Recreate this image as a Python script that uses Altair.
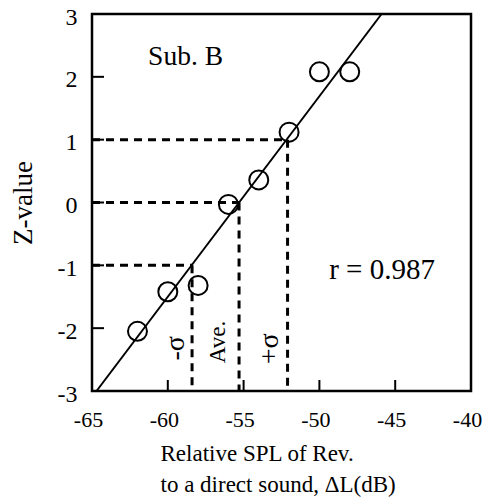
import altair as alt
import pandas as pd

# data points
pt_x = [-62, -60, -58, -56, -54, -52, -50, -48]
pt_y = [-2.05, -1.42, -1.32, -0.03, 0.36, 1.12, 2.08, 2.08]

# regression line endpoints
fit_x = [-64.7, -45.9]
fit_y = [-3.0, 3.0]

# dashed guide lines: -sigma, average, +sigma
guide_x = [-58.4, -55.3, -52.1]
guide_z = [-1, 0, 1]
z_min = -3
x_min = -65

x_ticks = [-65, -60, -55, -50, -45, -40]
y_ticks = [-3, -2, -1, 0, 1, 2, 3]

FONT = "Liberation Serif"
W, H = 379, 377

pts = pd.DataFrame({"x": pt_x, "y": pt_y})
fit = pd.DataFrame({"x": fit_x, "y": fit_y})
hseg = pd.DataFrame({"x": [x_min] * 3, "x2": guide_x, "y": guide_z})
vseg = pd.DataFrame({"x": guide_x, "y": guide_z, "y2": [z_min] * 3})

xs = alt.Scale(domain=[-65, -40], nice=False, zero=False)
ys = alt.Scale(domain=[-3, 3], nice=False, zero=False)

xax = alt.Axis(values=x_ticks, ticks=False, domain=False, grid=False,
               labelPadding=18, labelFontSize=22, labelFont=FONT, labelColor="black",
               labelExpr="'' + datum.value", labelFlush=False, labelOffset=-4,
               title=["Relative SPL of Rev.", "to a direct sound, \u0394L(dB)"],
               titleFont=FONT, titleFontSize=23, titleFontWeight="normal", titleColor="black",
               titleLineHeight=31, titlePadding=12, titleAlign="left", titleX=68)
yax = alt.Axis(values=y_ticks, ticks=False, domain=False, grid=False,
               labelPadding=15, labelFontSize=24, labelFont=FONT, labelColor="black",
               labelExpr="'' + datum.value", labelFlush=False, labelOffset=3,
               title="Z-value", titleFont=FONT, titleFontSize=27, titleFontWeight="normal",
               titleColor="black", titlePadding=20)

base_pts = alt.Chart(pts).mark_point(shape="circle", size=361, strokeWidth=2,
                                     color="black", filled=False, opacity=1).encode(
    x=alt.X("x:Q", scale=xs, axis=xax),
    y=alt.Y("y:Q", scale=ys, axis=yax),
)

line = alt.Chart(fit).mark_line(color="black", strokeWidth=2).encode(
    x=alt.X("x:Q", scale=xs), y=alt.Y("y:Q", scale=ys))

hl = alt.Chart(hseg).mark_rule(color="black", strokeWidth=3, strokeDash=[8, 6]).encode(
    x=alt.X("x:Q", scale=xs), x2="x2:Q", y=alt.Y("y:Q", scale=ys))
vl = alt.Chart(vseg).mark_rule(color="black", strokeWidth=3, strokeDash=[8, 6]).encode(
    x=alt.X("x:Q", scale=xs), y=alt.Y("y:Q", scale=ys), y2="y2:Q")

xt = alt.Chart(pd.DataFrame({"v": x_ticks})).mark_rule(color="black", strokeWidth=2).encode(
    x=alt.X("v:Q", scale=xs), y=alt.value(H), y2=alt.value(H - 11))
yt = alt.Chart(pd.DataFrame({"v": y_ticks})).mark_rule(color="black", strokeWidth=2).encode(
    y=alt.Y("v:Q", scale=ys), x=alt.value(0), x2=alt.value(12))

labels = pd.DataFrame({
    "x": [-58.83, -45.87],
    "y": [2.32, -1.08],
    "t": ["Sub. B", "r = 0.987"],
    "s": [27.5, 29],
})
txt = alt.Chart(labels).mark_text(font=FONT, color="black").encode(
    x=alt.X("x:Q", scale=xs), y=alt.Y("y:Q", scale=ys), text="t:N",
    size=alt.Size("s:Q", scale=None, legend=None))

rlabels = pd.DataFrame({
    "x": [-59.46, -56.69, -53.23],
    "y": [-2.32, -2.22, -2.33],
    "t": ["-\u03c3", "Ave.", "+\u03c3"],
    "s": [28, 23, 28],
})
rtxt = alt.Chart(rlabels).mark_text(font=FONT, color="black", angle=270).encode(
    x=alt.X("x:Q", scale=xs), y=alt.Y("y:Q", scale=ys), text="t:N",
    size=alt.Size("s:Q", scale=None, legend=None))

chart = alt.layer(hl, vl, line, base_pts, xt, yt, txt, rtxt).properties(
    width=W, height=H,
    autosize=alt.AutoSizeParams(type="none"),
    padding={"left": 84, "top": 6, "right": 11, "bottom": 108},
).configure(background="white", view=alt.ViewConfig(stroke="black", strokeWidth=2.5))

chart.save("out.html", embed_options={"renderer": "svg", "actions": False})
